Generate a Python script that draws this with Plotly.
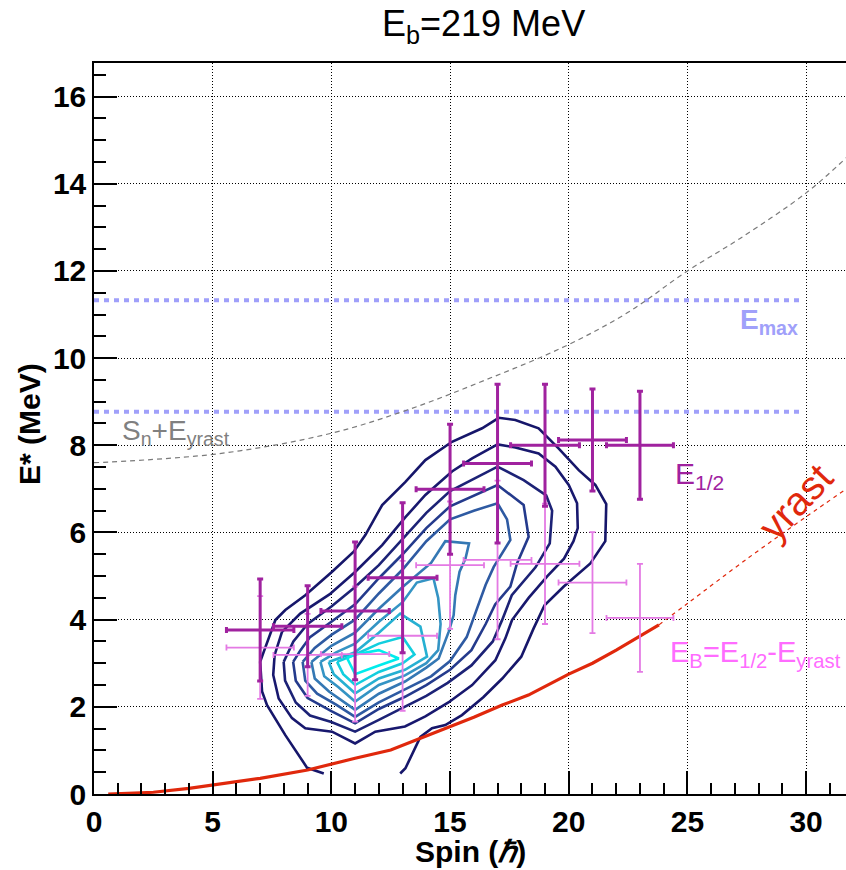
import plotly.graph_objects as go

# ---------------- data ----------------
spin_pts = [7, 9, 11, 13, 15, 17, 19, 21, 23]
spin_err = [1.42, 1.44, 1.44, 1.45, 1.43, 1.43, 1.45, 1.43, 1.41]

e_half = [3.76, 3.85, 4.20, 4.96, 6.99, 7.58, 8.00, 8.12, 8.00]
e_half_err = [1.17, 0.93, 1.58, 1.72, 1.49, 1.82, 1.40, 1.17, 1.24]

e_b = [3.36, 3.19, 3.21, 3.63, 5.25, 5.37, 5.28, 4.85, 4.04]
e_b_err = [1.18, 0.94, 1.55, 1.72, 1.46, 1.82, 1.38, 1.16, 1.24]

yrast_x = [0.6, 2.5, 4.0, 5.0, 7.0, 9.0, 10.0, 11.0, 12.5, 14.0, 15.0, 16.0, 17.2, 18.3, 20.0, 21.0, 22.0, 23.0, 23.8]
yrast_y = [0.0, 0.04, 0.13, 0.21, 0.36, 0.55, 0.69, 0.82, 1.01, 1.33, 1.54, 1.76, 2.04, 2.27, 2.75, 3.0, 3.3, 3.62, 3.88]
yrast_ext_x = [23.8, 25.0, 27.6, 30.0, 31.7]
yrast_ext_y = [3.88, 4.37, 5.43, 6.36, 7.0]

sn_x = [0.0, 5.3, 9.95, 13.2, 16.5, 19.8, 22.5, 25.0, 27.2, 30.0, 31.7]
sn_y = [7.6, 7.81, 8.27, 8.81, 9.5, 10.26, 11.05, 12.0, 12.74, 13.79, 14.6]

e_max = 11.33
e_line2 = 8.77
hline_x = [0.0, 29.7]

contour_1 = [(9.68, 0.47), (8.98, 0.6), (8.06, 1.35), (7.29, 2.04), (7.08, 2.35), (7.0, 3.03), (7.15, 3.26),
             (7.64, 3.99), (8.06, 4.22), (8.9, 4.56), (10.03, 5.1), (10.94, 5.56), (11.43, 5.94), (12.14, 6.63),
             (13.12, 7.16), (13.96, 7.66), (15.08, 8.08), (16.35, 8.39), (17.05, 8.63), (17.75, 8.58),
             (18.73, 8.39), (19.57, 7.93), (20.42, 7.43), (21.12, 7.09), (21.58, 6.65), (21.54, 5.8),
             (20.91, 5.29), (19.79, 4.76), (18.98, 4.33), (18.52, 3.8), (18.0, 3.15), (17.2, 2.65),
             (16.4, 2.22), (15.5, 1.81), (14.8, 1.58), (14.24, 1.51), (13.75, 1.31), (13.12, 0.59), (12.9, 0.47)]
contour_2 = [(7.92, 3.72), (7.61, 3.19), (7.55, 2.73), (7.78, 2.19), (8.34, 1.74), (8.9, 1.51), (10.03, 1.43),
             (11.0, 1.16), (11.85, 1.43), (13.1, 1.55), (13.96, 1.78), (14.93, 2.1), (15.93, 2.5), (16.91, 3.07),
             (17.33, 3.57), (17.61, 3.99), (18.31, 4.5), (19.1, 5.0), (19.8, 5.4), (20.2, 5.8), (20.38, 6.1),
             (20.35, 6.67), (20.0, 7.09), (19.44, 7.51), (18.73, 7.81), (17.75, 7.95), (17.0, 8.02), (15.93, 7.7),
             (15.08, 7.4), (13.96, 6.86), (13.12, 6.35), (12.14, 5.71), (11.01, 5.1), (9.92, 4.58), (8.69, 4.14),
             (7.92, 3.72)]
contour_3 = [(7.99, 3.03), (8.05, 2.6), (8.5, 2.1), (9.1, 1.8), (10.0, 1.65), (11.0, 1.43), (12.0, 1.7),
             (13.1, 2.0), (14.0, 2.25), (14.9, 2.55), (15.9, 2.95), (16.8, 3.5), (17.2, 4.0), (17.6, 4.56),
             (18.6, 5.2), (19.2, 5.75), (19.3, 6.5), (19.05, 6.85), (18.1, 7.2), (17.0, 7.51), (15.9, 7.2),
             (15.0, 6.95), (14.0, 6.45), (13.0, 5.85), (12.0, 5.25), (11.0, 4.75), (10.0, 4.3), (9.0, 3.9),
             (8.4, 3.5), (7.99, 3.03)]
contour_4 = [(8.39, 3.03), (8.5, 2.6), (9.0, 2.2), (10.0, 1.9), (11.0, 1.62), (12.0, 1.95), (13.1, 2.23),
             (14.0, 2.5), (15.0, 2.85), (15.9, 3.3), (16.5, 3.9), (16.9, 4.35), (17.54, 4.76), (17.82, 5.29),
             (18.31, 5.9), (18.1, 6.63), (17.0, 7.09), (16.0, 6.85), (15.0, 6.6), (14.0, 6.1), (13.0, 5.5),
             (12.0, 4.95), (11.0, 4.35), (10.0, 3.95), (9.1, 3.6), (8.7, 3.3), (8.39, 3.03)]
contour_5 = [(8.79, 3.03), (8.9, 2.6), (9.4, 2.3), (10.2, 2.05), (11.0, 1.77), (12.0, 2.1), (13.1, 2.4),
             (14.2, 2.7), (15.0, 3.05), (15.7, 3.6), (16.1, 4.2), (16.5, 4.8), (16.84, 5.21), (17.54, 5.83),
             (17.4, 6.3), (17.0, 6.67), (16.0, 6.5), (15.0, 6.3), (14.0, 5.8), (13.0, 5.15), (12.0, 4.6),
             (11.0, 4.0), (10.0, 3.65), (9.3, 3.35), (8.79, 3.03)]
contour_6 = [(9.16, 3.03), (9.3, 2.65), (9.9, 2.35), (11.0, 1.93), (12.0, 2.3), (13.1, 2.58), (14.0, 2.9),
             (14.52, 3.11), (14.94, 3.72), (15.15, 4.1), (15.22, 4.56), (15.4, 5.1), (15.65, 5.4), (15.8, 5.75),
             (14.8, 5.8), (14.2, 5.3), (13.0, 4.75), (12.0, 4.25), (11.0, 3.7), (10.0, 3.4), (9.16, 3.03)]
contour_7 = [(9.54, 3.03), (9.7, 2.7), (10.3, 2.45), (11.0, 2.12), (12.0, 2.5), (13.1, 2.72), (14.0, 3.0),
             (14.5, 3.3), (14.6, 3.9), (14.5, 4.5), (14.3, 4.95), (13.6, 4.85), (13.0, 4.4), (12.0, 3.95),
             (11.0, 3.45), (10.2, 3.25), (9.54, 3.03)]
contour_8 = [(9.89, 3.03), (10.1, 2.75), (11.0, 2.31), (12.0, 2.65), (13.1, 2.85), (14.03, 3.15), (13.75, 3.84),
             (12.9, 4.14), (12.0, 3.7), (11.0, 3.25), (9.89, 3.03)]
contour_9 = [(10.24, 3.03), (10.5, 2.75), (11.0, 2.5), (12.0, 2.8), (13.0, 3.0), (13.5, 3.2), (13.0, 3.6),
             (12.0, 3.45), (11.0, 3.2), (10.24, 3.03)]
contour_10 = [(10.66, 3.12), (11.0, 2.75), (12.0, 2.95), (12.84, 3.11), (12.0, 3.3), (11.0, 3.2), (10.66, 3.12)]

contours = [contour_1, contour_2, contour_3, contour_4, contour_5,
            contour_6, contour_7, contour_8, contour_9, contour_10]
contour_colors = ["#16166a", "#18186e", "#1c2276", "#243a8c", "#2e5aa2",
                  "#3478b4", "#3494c4", "#26b0d2", "#12cede", "#00ecec"]

# ---------------- figure ----------------
FONT = "Liberation Sans, Arial, Helvetica, sans-serif"
fig = go.Figure()

for pts, col in zip(contours, contour_colors):
    fig.add_trace(go.Scatter(x=[p[0] for p in pts], y=[p[1] for p in pts], mode="lines",
                             line=dict(color=col, width=2.6), hoverinfo="skip", showlegend=False))

# Emax and second horizontal dotted lines
for yv in (e_max, e_line2):
    fig.add_trace(go.Scatter(x=hline_x, y=[yv, yv], mode="lines",
                             line=dict(color="#a0a0fa", width=4, dash="5px,5px"),
                             hoverinfo="skip", showlegend=False))

# Sn + Eyrast
fig.add_trace(go.Scatter(x=sn_x, y=sn_y, mode="lines", line=dict(color="#7a7a7a", width=1.2, dash="5px,4px"),
                         line_shape="spline", hoverinfo="skip", showlegend=False))

# yrast line
fig.add_trace(go.Scatter(x=yrast_ext_x, y=yrast_ext_y, mode="lines",
                         line=dict(color="#e0280c", width=1.2, dash="4px,4px"), line_shape="spline",
                         hoverinfo="skip", showlegend=False))
fig.add_trace(go.Scatter(x=yrast_x, y=yrast_y, mode="lines", line=dict(color="#e0280c", width=3.2),
                         hoverinfo="skip", showlegend=False))

# E_B points
fig.add_trace(go.Scatter(x=spin_pts, y=e_b, mode="markers", marker=dict(size=1, color="#e47ae4"),
                         error_x=dict(type="data", array=spin_err, color="#e47ae4", thickness=1.8, width=3),
                         error_y=dict(type="data", array=e_b_err, color="#e47ae4", thickness=1.8, width=3),
                         showlegend=False))
# E_1/2 points
fig.add_trace(go.Scatter(x=spin_pts, y=e_half, mode="markers", marker=dict(size=1, color="#a0229f"),
                         error_x=dict(type="data", array=spin_err, color="#a0229f", thickness=3, width=3),
                         error_y=dict(type="data", array=e_half_err, color="#a0229f", thickness=3, width=3),
                         showlegend=False))

L, R, T, B = 94, 0, 63, 76
W, H = 846, 870
PW, PH = W - L - R, H - T - B


def px2paper(px, py):
    return (px - L) / PW, (H - B - py) / PH


annotations = []
tx, ty = px2paper(483, 26)
annotations.append(dict(text="E<sub>b</sub>=219 MeV", x=tx, y=ty, xref="paper", yref="paper",
                        showarrow=False, xanchor="center", yanchor="middle",
                        font=dict(family=FONT, size=36, color="black")))
tx, ty = px2paper(470, 851)
annotations.append(dict(text="Spin (<i>ℏ</i>)", x=tx, y=ty, xref="paper", yref="paper",
                        showarrow=False, xanchor="center", yanchor="middle",
                        font=dict(family=FONT, size=30, color="black", weight="bold")))
tx, ty = px2paper(29, 424)
annotations.append(dict(text="E* (MeV)", x=tx, y=ty, xref="paper", yref="paper", textangle=-90,
                        showarrow=False, xanchor="center", yanchor="middle",
                        font=dict(family=FONT, size=30, color="black", weight="bold")))
annotations.append(dict(text="E<sub>max</sub>", x=29.75, y=10.85, xref="x", yref="y", showarrow=False,
                        xanchor="right", yanchor="middle",
                        font=dict(family=FONT, size=28, color="#a0a0fa", weight="bold")))
annotations.append(dict(text="S<sub>n</sub>+E<sub>yrast</sub>", x=1.1, y=8.3, xref="x", yref="y",
                        showarrow=False, xanchor="left", yanchor="middle",
                        font=dict(family=FONT, size=28, color="#808080")))
annotations.append(dict(text="E<sub>1/2</sub>", x=24.4, y=7.3, xref="x", yref="y", showarrow=False,
                        xanchor="left", yanchor="middle",
                        font=dict(family=FONT, size=30, color="#a0229f")))
annotations.append(dict(text="E<sub>B</sub>=E<sub>1/2</sub>-E<sub>yrast</sub>", x=24.2, y=3.22,
                        xref="x", yref="y", showarrow=False, xanchor="left", yanchor="middle",
                        font=dict(family=FONT, size=29, color="#ff6cff")))
annotations.append(dict(text="yrast", x=29.55, y=6.7, xref="x", yref="y", showarrow=False, textangle=-47,
                        xanchor="center", yanchor="middle",
                        font=dict(family=FONT, size=40, color="#e0280c")))

axis_common = dict(showgrid=True, gridcolor="black", gridwidth=1, griddash="1px,2px", zeroline=False,
                   ticks="inside", ticklen=23, tickwidth=1.5, tickcolor="black",
                   showline=True, linecolor="black", linewidth=1.5,
                   tickfont=dict(family=FONT, size=30, color="black", weight="bold"))

fig.update_layout(
    width=W, height=H, margin=dict(l=L, r=R, t=T, b=B, autoexpand=False),
    paper_bgcolor="white", plot_bgcolor="white", showlegend=False,
    annotations=annotations,
    xaxis=dict(range=[0, 31.68], tick0=0, dtick=5, mirror=True,
               minor=dict(dtick=1, ticks="inside", ticklen=11, tickwidth=1.5, tickcolor="black", showgrid=False),
               **axis_common),
    yaxis=dict(range=[0, 16.77], tick0=0, dtick=2, mirror=False,
               minor=dict(dtick=0.5, ticks="inside", ticklen=12, tickwidth=1.5, tickcolor="black", showgrid=False),
               **axis_common),
)

fig.write_html("out.html", config={"displayModeBar": False},
               post_script="document.body.style.margin='0';")
